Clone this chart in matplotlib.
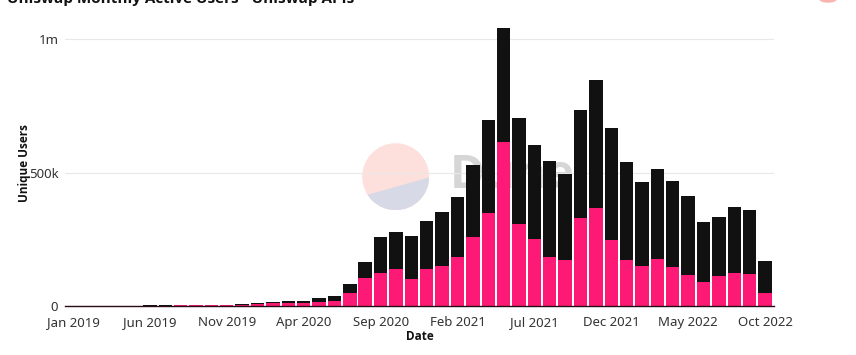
import matplotlib
matplotlib.use("Agg")
import matplotlib.pyplot as plt
import numpy as np
from matplotlib.patches import Circle, Polygon

# ---- data (thousands of unique users per month) ----
months = ["Jan 2019", "Feb 2019", "Mar 2019", "Apr 2019", "May 2019", "Jun 2019",
          "Jul 2019", "Aug 2019", "Sep 2019", "Oct 2019", "Nov 2019", "Dec 2019",
          "Jan 2020", "Feb 2020", "Mar 2020", "Apr 2020", "May 2020", "Jun 2020",
          "Jul 2020", "Aug 2020", "Sep 2020", "Oct 2020", "Nov 2020", "Dec 2020",
          "Jan 2021", "Feb 2021", "Mar 2021", "Apr 2021", "May 2021", "Jun 2021",
          "Jul 2021", "Aug 2021", "Sep 2021", "Oct 2021", "Nov 2021", "Dec 2021",
          "Jan 2022", "Feb 2022", "Mar 2022", "Apr 2022", "May 2022", "Jun 2022",
          "Jul 2022", "Aug 2022", "Sep 2022", "Oct 2022"]
pink_users = [0.2, 0.3, 0.5, 0.7, 1, 1.3, 1.6, 2, 2.3, 2.7, 3.3, 4,
              7, 10, 11, 12, 16, 20, 48, 106, 122, 137, 102, 139,
              151, 185, 258, 348, 615, 307, 250, 184, 171, 330, 367, 247,
              174, 150, 176, 146, 117, 89, 111, 124, 120, 47]
black_users = [0.1, 0.2, 0.3, 0.3, 0.5, 0.7, 0.9, 1, 1.2, 1.3, 1.7, 2,
               3, 5, 6.5, 7, 13, 18, 33, 59, 136, 140, 159, 181,
               200, 224, 271, 349, 426, 397, 352, 358, 323, 404, 478, 418,
               367, 313, 336, 323, 295, 224, 224, 247, 241, 120]
tick_labels = ["Jan 2019", "Jun 2019", "Nov 2019", "Apr 2020", "Sep 2020",
               "Feb 2021", "Jul 2021", "Dec 2021", "May 2022", "Oct 2022"]

PINK = "#fd1a76"
BLACK = "#111111"
FONT = "Noto Sans"
BFONT = "Open Sans"

W, H = 856, 355
fig = plt.figure(figsize=(W / 100, H / 100), dpi=100)

# axes in pixel terms
ax_l, ax_r, ax_b, ax_t = 65.3, 773.5, 306, 20
ax = fig.add_axes([ax_l / W, 1 - ax_b / H, (ax_r - ax_l) / W, (ax_b - ax_t) / H])

x = np.arange(len(months))
pink = np.array(pink_users) * 1000
black = np.array(black_users) * 1000

# watermark text behind the bars
ax.text(0.543, 0.455, "Dune", transform=ax.transAxes, fontsize=34,
        fontweight="bold", color="#d6d6d6", family=BFONT, va="center",
        ha="left", zorder=0)

ax.bar(x, pink, width=0.87, color=PINK, zorder=2, linewidth=0)
ax.bar(x, black, bottom=pink, width=0.87, color=BLACK, zorder=2, linewidth=0)

ax.set_xlim(-0.5, 45.55)
ax.set_ylim(0, (ax_b - ax_t) / 267 * 1e6)

ax.set_yticks([0, 500000, 1000000])
ax.set_yticklabels(["0", "500k", "1m"])
tick_pos = [months.index(t) for t in tick_labels]
ax.set_xticks(tick_pos)
ax.set_xticklabels(tick_labels)

for t in ax.get_xticklabels() + ax.get_yticklabels():
    t.set_family(FONT)
    t.set_fontsize(9.5)
    t.set_color("#333333")
ax.tick_params(axis="both", length=0)
ax.tick_params(axis="x", pad=7)
ax.tick_params(axis="y", pad=5)

ax.grid(axis="y", color="#e8e8e8", linewidth=0.8, zorder=0)
ax.set_axisbelow(True)
for s in ["top", "right", "left"]:
    ax.spines[s].set_visible(False)
ax.spines["bottom"].set_color("#2a0a14")
ax.spines["bottom"].set_linewidth(1.0)
ax.spines["bottom"].set_zorder(3)

ax.set_xlabel("Date", fontsize=8.5, fontweight="bold", family=BFONT,
              color="#111111", labelpad=1)
ax.set_ylabel("Unique Users", fontsize=8.5, fontweight="bold", family=BFONT,
              color="#111111", labelpad=-1.5)

# Dune logo watermark (circle with chord)
cx, cy, r = 395.7, 176.7, 33.5
lax = fig.add_axes([(cx - r) / W, 1 - (cy + r) / H, 2 * r / W, 2 * r / H])
lax.set_xlim(-r, r)
lax.set_ylim(-r, r)
lax.axis("off")
lax.set_zorder(-1)
ax.set_zorder(1)
ax.patch.set_alpha(0)
circ = Circle((0, 0), r, facecolor="#fde0dc", edgecolor="none")
lax.add_patch(circ)
p1 = (369.3 - cx, -(194.3 - cy))
p2 = (429.3 - cx, -(177.3 - cy))
blue = Polygon([(p1[0] - 20, p1[1] - 5.7), (p2[0] + 20, p2[1] + 5.7), (r + 20, -r - 20), (-r - 20, -r - 20)],
               facecolor="#d8d9e6", edgecolor="none")
lax.add_patch(blue)
blue.set_clip_path(circ)

# title (cut off at top of image, as in the reference)
fig.text(7 / W, 1 - 3 / H, "Uniswap Monthly Active Users - Uniswap APIs",
         fontsize=11, fontweight="bold", family=BFONT, color="#111111",
         va="baseline", ha="left")

# legend hint at top right (cut off)
fig.patches.append(Circle((828 / W, 1 + 1 / H), 9 / W, transform=fig.transFigure,
                          facecolor="#f9b4b0", edgecolor="none"))

fig.savefig("out.png", dpi=100)
